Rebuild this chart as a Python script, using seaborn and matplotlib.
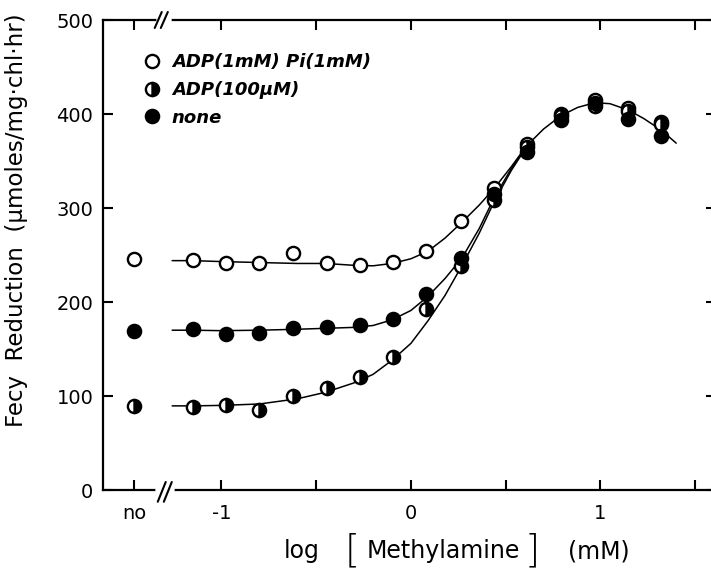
import numpy as np
import pandas as pd
import seaborn as sns
import matplotlib.pyplot as plt
from matplotlib.lines import Line2D

# log [methylamine] (mM) of the measured points, plus the "no methylamine" slot
x_no = -1.46
x_pts = [-1.15, -0.975, -0.80, -0.62, -0.445, -0.27, -0.095, 0.08, 0.265, 0.44, 0.615, 0.79, 0.97, 1.145, 1.32]

# Fecy reduction (umoles/mg chl hr)
open_no = 246
open_pts = [245, 242, 242, 252, 242, 239, 243, 254, 286, 321, 368, 400, 415, 406, 391]
half_no = 89
half_pts = [88, 90, 85, 100, 108, 120, 142, 193, 238, 309, 365, 398, 408, 403, 389]
filled_no = 169
filled_pts = [171, 165.5, 166.5, 172.5, 173, 175.5, 182, 209, 247, 315, 360, 394, 412, 395, 377]

# hand drawn fit curves
curve_x = [-1.26, -1.15, -1.0, -0.8, -0.6, -0.45, -0.3, -0.2, -0.1, 0.0, 0.09, 0.18, 0.27,
           0.36, 0.44, 0.53, 0.61, 0.70, 0.79, 0.88, 0.97, 1.05, 1.15, 1.23, 1.32, 1.40]
open_curve = [244, 244, 243, 242, 241, 241, 239, 238.5, 241, 246, 254, 268, 285,
              303, 321, 344, 366, 384, 398, 407, 412, 411, 404, 395, 383, 369]
filled_curve = [170, 170, 169.5, 170, 171, 172, 173, 175, 181, 191, 206, 225, 247,
                278, 311, 342, 366]
half_curve = [89.5, 89.5, 90, 91.5, 97, 104, 114, 123, 138, 156, 180, 207, 239,
              273, 307, 340, 365]

labels = ['ADP(1mM) Pi(1mM)', 'ADP(100\u03bcM)', 'none']
xtick_pos = [x_no, -1, -0.5, 0, 0.5, 1, 1.5]
xtick_lab = ['no', '-1', '', '0', '', '1', '']

sns.set_style('ticks')
plt.rcParams['font.family'] = ['DejaVu Sans']
plt.rcParams['text.color'] = 'black'
plt.rcParams['axes.labelcolor'] = 'black'

fig = plt.figure(figsize=(7.11, 5.70), dpi=100)
ax = fig.add_axes([103 / 711, 1 - 490 / 570, 613 / 711, 470 / 570])

# curves
sns.lineplot(x=curve_x, y=open_curve, ax=ax, color='black', lw=1.1, estimator=None, sort=False)
sns.lineplot(x=curve_x[:len(filled_curve)], y=filled_curve, ax=ax, color='black', lw=1.1,
             estimator=None, sort=False)
sns.lineplot(x=curve_x[:len(half_curve)], y=half_curve, ax=ax, color='black', lw=1.1,
             estimator=None, sort=False)

# points
mk = dict(marker='o', markersize=9.5, markeredgecolor='black', markeredgewidth=1.7,
          linestyle='none', estimator=None, sort=False, color='black')
sns.lineplot(x=[x_no] + x_pts, y=[open_no] + open_pts, ax=ax, markerfacecolor='white', **mk)
sns.lineplot(x=[x_no] + x_pts, y=[half_no] + half_pts, ax=ax, markerfacecolor='black',
             fillstyle='right', markerfacecoloralt='white', **mk)
sns.lineplot(x=[x_no] + x_pts, y=[filled_no] + filled_pts, ax=ax, markerfacecolor='black', **mk)

ax.set_xlim(-1.625, 1.61)
ax.set_ylim(0, 500)
ax.set_xticks(xtick_pos)
ax.set_xticklabels(xtick_lab)
ax.set_yticks([0, 100, 200, 300, 400, 500])
ax.tick_params(direction='in', length=7, width=1.5, top=True, right=True, labelsize=14,
               color='black', labelcolor='black')
ax.tick_params(axis='x', pad=10)
ax.tick_params(axis='y', pad=7)
for s in ax.spines.values():
    s.set_linewidth(1.6)
    s.set_color('black')

# axis breaks
tr = ax.get_xaxis_transform()
ax.plot([-1.335, -1.262], [0, 0], color='white', lw=4, transform=tr, clip_on=False, zorder=5)
ax.plot([-1.328, -1.275], [1, 1], color='white', lw=4, transform=tr, clip_on=False, zorder=5)
for dx in [0, 0.032]:
    ax.plot([-1.336 + dx, -1.294 + dx], [-0.025, 0.017], color='black', lw=1.5,
            transform=tr, clip_on=False, zorder=6)
    ax.plot([-1.352 + dx, -1.315 + dx], [0.983, 1.017], color='black', lw=1.5,
            transform=tr, clip_on=False, zorder=6)

ax.set_ylabel('Fecy  Reduction  (\u03bcmoles/mg\u00b7chl\u00b7hr)', fontsize=16.5)
ax.yaxis.set_label_coords(-0.122, 0.574)
ax.set_xlabel('')

# x label pieces with tall brackets
fig.text(302 / 711, 1 - 558 / 570, 'log', fontsize=17, ha='center', va='baseline')
fig.text(352 / 711, 1 - 551 / 570, '[', fontsize=28, ha='center', va='center', fontweight='light')
fig.text(443 / 711, 1 - 558 / 570, 'Methylamine', fontsize=17, ha='center', va='baseline')
fig.text(532 / 711, 1 - 551 / 570, ']', fontsize=28, ha='center', va='center', fontweight='light')
fig.text(599 / 711, 1 - 558 / 570, '(mM)', fontsize=17, ha='center', va='baseline')

# legend
handles = [
    Line2D([], [], marker='o', ls='none', markersize=9.5, markeredgecolor='black',
           markeredgewidth=1.7, markerfacecolor='white'),
    Line2D([], [], marker='o', ls='none', markersize=9.5, markeredgecolor='black',
           markeredgewidth=1.7, markerfacecolor='black', fillstyle='right',
           markerfacecoloralt='white'),
    Line2D([], [], marker='o', ls='none', markersize=9.5, markeredgecolor='black',
           markeredgewidth=1.7, markerfacecolor='black'),
]
leg = ax.legend(handles, labels, loc='upper left', bbox_to_anchor=(0.065, 0.93), frameon=False,
                borderpad=0, borderaxespad=0, handlelength=1.0, handletextpad=0.6,
                labelspacing=0.55, prop=dict(size=13, style='italic', weight='bold'))
for t in leg.get_texts():
    t.set_color('black')

fig.savefig('out.png', dpi=100)
